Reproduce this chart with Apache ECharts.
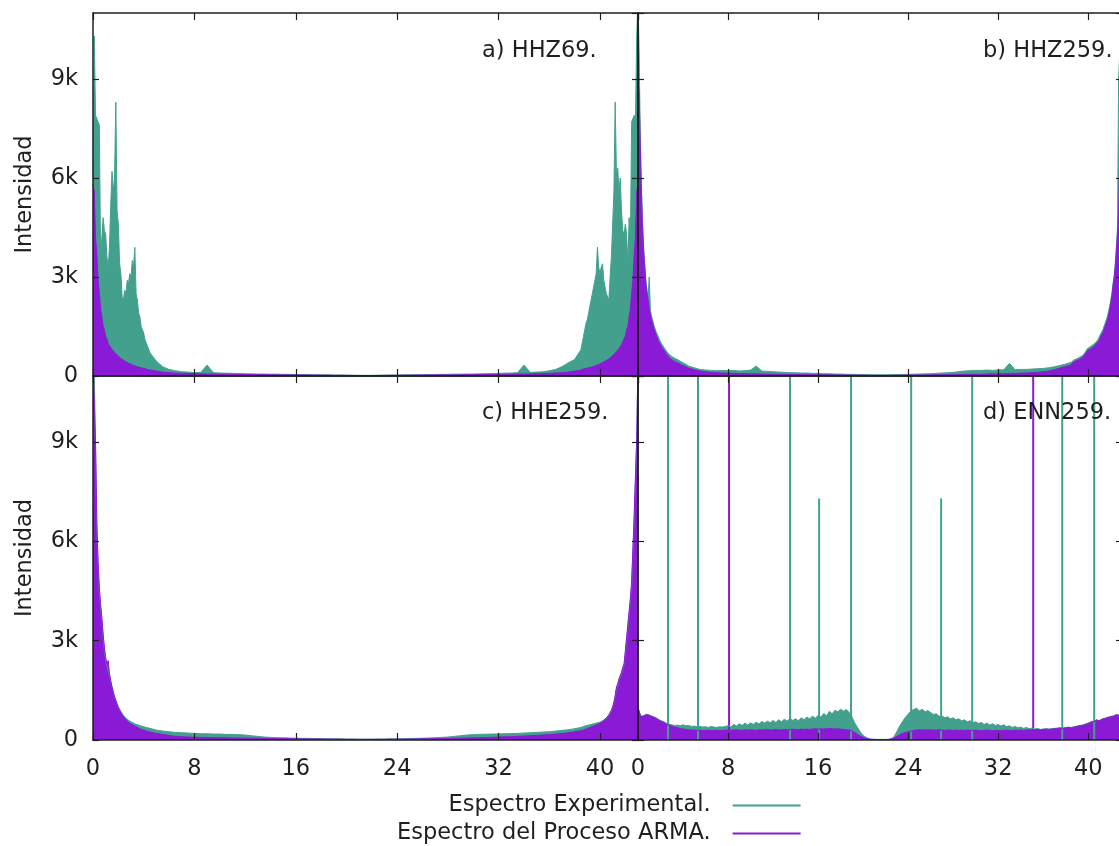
<!DOCTYPE html>
<html><head><meta charset="utf-8">
<script src="https://cdn.jsdelivr.net/npm/echarts@6/dist/echarts.min.js"></script>
<style>html,body{margin:0;padding:0;background:#fff}#chart{width:1119px;height:846px}</style>
</head><body><div id="chart"></div>
<script>
// ---------- DATA ----------
// Frequency sample positions for panels a-c (fine near the edges, coarser in the middle)
const freqABC = [];
for (let i = 0; i <= 44; i++) freqABC.push(+(i / 10).toFixed(1));
for (let k = 9; k <= 77; k++) freqABC.push(k / 2);
for (let i = 386; i <= 430; i++) freqABC.push(+(i / 10).toFixed(1));
// Frequency sample positions for panel d
const freqD = [];
for (let i = 0; i <= 172; i++) freqD.push(i / 4);

const xTicks = [0, 8, 16, 24, 32, 40];
const yTicks = [0, 3000, 6000, 9000];
const panelTitles = ['a) HHZ69.', 'b) HHZ259.', 'c) HHE259.', 'd) ENN259.'];
const seriesNames = ['Espectro Experimental.', 'Espectro del Proceso ARMA.'];
const yName = 'Intensidad';

// a) HHZ69.
const expA = [
6000,10300,7900,7800,7700,7600,3600,4200,4800,4400,
4300,3600,3300,3900,5200,6200,5600,6000,8300,5000,
4600,3400,3100,2400,2300,2600,2500,2900,2800,3100,
3000,3500,3300,3900,2500,2300,1900,1800,1500,1400,
1300,1100,1050,900,850,
700,450,280,200,160,130,120,100,110,330,
100,90,85,80,75,70,65,60,60,55,
55,50,50,45,45,40,40,35,35,30,
30,25,25,20,20,20,25,25,30,30,
35,35,40,40,45,45,50,50,55,55,
60,60,65,70,75,80,85,90,100,330,
110,120,130,160,200,280,400,500,800,
1000,1200,1400,1600,1700,1900,2100,2300,2500,2700,
2900,3100,3900,3300,3100,3300,3400,2900,2700,2500,
2400,2300,3000,3600,4600,5600,8300,6100,6300,5600,
6000,5000,4400,4300,4600,4300,3400,4800,4200,7700,
7800,7900,7800,10300,11500];
const armaA = [
5800,5600,4200,3700,2900,2500,2050,1800,1500,1400,
1200,1120,980,950,860,830,760,740,670,650,
600,580,530,520,480,470,430,430,390,380,
350,350,320,320,290,290,270,270,250,250,
230,230,210,210,190,
180,150,120,100,90,80,75,70,65,60,
60,55,55,50,50,45,45,40,40,40,
35,35,35,30,30,30,25,25,25,20,
20,20,15,15,15,15,15,20,20,20,
25,25,25,30,30,30,35,35,35,40,
40,40,45,45,50,50,55,55,60,60,
65,70,75,80,90,100,120,150,180,
190,210,210,230,230,250,250,270,270,290,
290,320,320,350,350,380,390,430,430,470,
480,520,530,580,600,650,670,740,760,830,
860,950,980,1120,1200,1400,1500,1800,2050,2500,
2900,3700,4200,5600,5800];

// b) HHZ259.
const expB = [
11500,9800,7300,5800,4700,3900,3400,2900,2600,2400,
3000,2000,1800,1700,1550,1500,1350,1300,1200,1100,
1050,980,920,870,810,770,720,680,660,620,
600,570,560,530,520,500,480,460,440,420,
400,380,370,350,340,
300,250,200,180,170,160,170,160,170,150,
160,180,300,150,140,130,120,110,100,100,
90,90,80,80,70,70,60,60,50,50,
45,40,40,35,35,35,40,40,45,50,
55,60,65,70,80,90,100,110,130,150,
160,170,170,180,170,180,190,380,190,200,
200,210,220,230,250,280,320,360,420,
470,480,500,510,530,540,560,580,600,620,
660,700,760,820,850,870,890,920,940,970,
1000,1030,1080,1120,1180,1280,1330,1400,1500,1600,
1700,1800,1950,2100,2300,2500,2800,3000,3400,3900,
4500,9000,9800,11500,11500];
const armaB = [
9000,8600,7000,5600,4500,3800,3300,2800,2500,2300,
2000,1900,1700,1600,1450,1400,1250,1200,1080,1000,
950,880,820,780,720,680,620,580,560,520,
500,470,450,430,420,400,390,370,350,330,
320,300,290,270,260,
240,190,150,130,110,100,90,85,80,75,
70,65,65,60,55,55,50,50,45,45,
40,40,40,35,35,35,30,30,30,25,
25,25,20,20,20,20,20,25,25,25,
30,30,30,35,35,35,40,40,45,45,
50,50,55,60,65,65,70,75,80,85,
90,100,110,130,150,190,240,290,330,
400,420,440,460,470,490,500,520,540,560,
600,640,700,760,790,800,820,850,870,900,
930,960,1000,1050,1100,1200,1250,1300,1400,1500,
1600,1700,1850,2000,2200,2400,2700,3000,3300,3800,
4300,5000,6500,8500,9000];

// c) HHE259.
const expC = [
11500,11000,8800,6400,5300,4500,4000,3600,3100,2700,
2400,2250,2300,1950,1750,1600,1450,1300,1200,1100,
1000,930,860,800,750,700,660,630,600,570,
550,530,510,490,470,460,450,430,420,410,
400,390,380,370,360,
340,300,270,250,230,220,210,200,190,190,
180,180,170,170,160,150,130,110,90,80,
70,65,60,55,50,50,45,40,40,35,
35,30,30,25,25,25,30,30,35,35,
40,45,50,55,60,70,80,90,110,130,
150,160,170,175,180,185,190,195,200,210,
220,230,240,250,270,290,310,340,380,
400,410,420,430,440,450,460,470,480,490,
500,510,520,530,540,550,570,600,620,650,
700,740,780,880,980,1120,1300,1550,1650,1800,
1900,2000,2150,2250,2600,3000,3400,3800,4200,4700,
5700,6700,7900,9000,11500];
const armaC = [
11500,11500,9000,6600,5400,4600,4100,3700,3200,2800,
2500,2300,2400,2000,1800,1600,1450,1300,1200,1080,
980,900,820,760,700,650,610,580,540,510,
480,460,440,420,400,380,360,340,320,310,
300,290,270,260,250,
230,200,170,140,110,100,90,85,80,75,
70,70,65,60,60,55,55,50,50,45,
45,40,40,35,35,30,30,30,25,25,
25,20,20,20,20,20,20,20,25,25,
25,30,30,35,35,40,40,45,50,55,
60,65,70,75,80,90,95,100,110,120,
130,140,150,165,180,200,220,250,280,
290,300,320,330,350,360,380,390,410,420,
440,450,470,490,500,530,560,600,630,670,
720,760,800,900,1000,1150,1350,1600,1700,1850,
1950,2050,2200,2300,2700,3100,3500,3900,4300,4800,
5800,6800,8000,9100,11500];

// d) ENN259.
const expD = [
980,720,740,780,760,720,690,640,
590,560,510,480,460,440,450,430,
460,430,440,410,420,400,410,390,
400,380,410,390,380,400,390,410,
430,390,470,420,490,440,510,450,
520,470,540,480,560,510,570,520,
590,530,610,550,630,570,650,590,
640,580,670,610,690,640,720,660,
740,690,800,730,870,790,900,850,
930,870,920,840,700,520,380,240,
140,80,40,25,20,18,18,18,
18,20,40,100,260,420,560,680,
780,880,920,960,880,930,850,890,
830,770,790,720,730,670,700,640,
670,610,640,580,610,550,580,520,
550,500,530,470,510,450,490,440,
470,420,460,400,430,380,410,370,
390,350,380,340,360,330,350,320,
330,340,330,340,350,360,370,360,
380,390,380,400,420,440,450,480,
510,550,570,610,590,640,660,690,
710,730,770,750,810];
const armaD = [
970,700,720,760,740,700,670,620,
570,540,480,450,420,390,370,350,
330,320,310,300,300,290,300,280,
290,300,280,290,300,280,290,300,
300,290,300,310,300,290,310,300,
310,300,290,310,300,310,320,300,
310,320,300,310,320,310,320,330,
320,310,330,320,330,320,330,340,
330,340,330,340,350,340,330,340,
330,320,310,300,280,230,170,120,
80,50,30,20,18,15,15,15,
15,18,30,60,110,160,200,230,
250,270,290,300,310,300,310,300,
310,300,300,310,300,290,300,300,
290,300,290,300,290,300,290,290,
300,290,280,290,300,290,280,290,
290,280,290,300,290,280,300,290,
300,290,300,310,300,310,320,310,
320,330,320,330,340,350,360,350,
370,380,370,390,410,430,440,470,
500,540,560,600,580,630,650,680,
700,720,760,740,800];
// narrow lines in panel d
const spikeExpFreq   = [2.67, 5.33, 13.51, 18.93, 24.27, 29.69, 37.69, 40.53, 16.09, 26.93];
const spikeExpHeight = [12000, 12000, 12000, 12000, 12000, 12000, 12000, 12000, 7300, 7300];
const spikeArmaFreq   = [8.09, 35.11];
const spikeArmaHeight = [12000, 12000];

// ---------- STYLE / LAYOUT ----------
const TEAL = '#43a08d', PURPLE = '#8a1ad6', INK = '#1f1f1f';
const FONT = 'DejaVu Sans', FS = 22.5;
const grids = [
  {left: 93,  top: 13,  width: 545, height: 363},
  {left: 638, top: 13,  width: 484, height: 363},
  {left: 93,  top: 376, width: 545, height: 364},
  {left: 638, top: 376, width: 484, height: 364}
];
const titlePos = [[482, 40], [983, 40], [482, 402], [983, 402]];

const xAxis = [], yAxis = [];
grids.forEach((g, gi) => {
  const bottomRow = gi >= 2, leftCol = gi % 2 === 0;
  const xc = {type: 'value', gridIndex: gi, min: 0, max: 43, interval: xTicks[1] - xTicks[0], z: 10,
    axisLine: {show: true, onZero: false, lineStyle: {color: INK, width: 1.5}},
    axisTick: {show: true, inside: true, length: 7, lineStyle: {color: INK, width: 1.2}},
    splitLine: {show: false}};
  xAxis.push(Object.assign({}, xc, {position: 'bottom',
    axisLabel: {show: bottomRow, margin: 18, fontSize: FS, fontFamily: FONT, color: INK,
      showMaxLabel: false, showMinLabel: true}}));
  xAxis.push(Object.assign({}, xc, {position: 'top', axisLabel: {show: false}}));
  const yc = {type: 'value', gridIndex: gi, min: 0, max: 11000, interval: yTicks[1] - yTicks[0], z: 10,
    axisLine: {show: true, onZero: false, lineStyle: {color: INK, width: 1.5}},
    axisTick: {show: true, inside: true, length: 6, lineStyle: {color: INK, width: 1.2}},
    splitLine: {show: false}};
  const yl = Object.assign({}, yc, {position: 'left',
    axisLabel: {show: leftCol, margin: 15, fontSize: FS, fontFamily: FONT, color: INK,
      showMaxLabel: false, formatter: v => v === 0 ? '0' : (v / 1000) + 'k'}});
  if (leftCol) {
    yl.name = yName; yl.nameLocation = 'middle'; yl.nameGap = 56;
    yl.nameTextStyle = {fontSize: FS, fontFamily: FONT, color: INK};
  }
  yAxis.push(yl);
  yAxis.push(Object.assign({}, yc, {position: 'right', axisLabel: {show: false}}));
});

function area(name, gi, freq, vals, color) {
  return {type: 'line', name, xAxisIndex: gi * 2, yAxisIndex: gi * 2,
    data: freq.map((f, i) => [f, vals[i]]), symbol: 'none', showSymbol: false,
    lineStyle: {color, width: 1}, itemStyle: {color}, areaStyle: {color, opacity: 1},
    silent: true, animation: false, clip: true, z: 2};
}
function spikes(name, gi, freq, heights, color) {
  return {type: 'bar', name, xAxisIndex: gi * 2, yAxisIndex: gi * 2,
    data: freq.map((f, i) => [f, heights[i]]), barWidth: 2, barGap: '-100%',
    itemStyle: {color}, silent: true, animation: false, clip: true, z: 2};
}

const series = [
  area(seriesNames[0], 0, freqABC, expA, TEAL),  area(seriesNames[1], 0, freqABC, armaA, PURPLE),
  area(seriesNames[0], 1, freqABC, expB, TEAL),  area(seriesNames[1], 1, freqABC, armaB, PURPLE),
  area(seriesNames[0], 2, freqABC, expC, TEAL),  area(seriesNames[1], 2, freqABC, armaC, PURPLE),
  area(seriesNames[0], 3, freqD, expD, TEAL),
  spikes('lineasExp', 3, spikeExpFreq, spikeExpHeight, TEAL),
  area(seriesNames[1], 3, freqD, armaD, PURPLE),
  spikes('lineasArma', 3, spikeArmaFreq, spikeArmaHeight, PURPLE)
];

const chart = echarts.init(document.getElementById('chart'), null, {renderer: 'canvas'});
chart.setOption({
  animation: false,
  backgroundColor: '#ffffff',
  grid: grids.map(g => Object.assign({containLabel: false, outerBoundsMode: 'none'}, g)),
  xAxis, yAxis, series,
  title: panelTitles.map((t, i) => ({text: t, left: titlePos[i][0], top: titlePos[i][1], padding: 0,
    textStyle: {fontSize: FS, fontWeight: 'normal', fontFamily: FONT, color: INK}})),
  legend: {
    data: seriesNames, orient: 'vertical', align: 'right', left: 397, top: 794, padding: 0,
    itemGap: 5, itemWidth: 68, itemHeight: 2, icon: 'rect', selectedMode: false,
    textStyle: {fontSize: FS, fontFamily: FONT, color: INK, padding: [0, 17, 0, 0]}
  }
});
</script></body></html>
